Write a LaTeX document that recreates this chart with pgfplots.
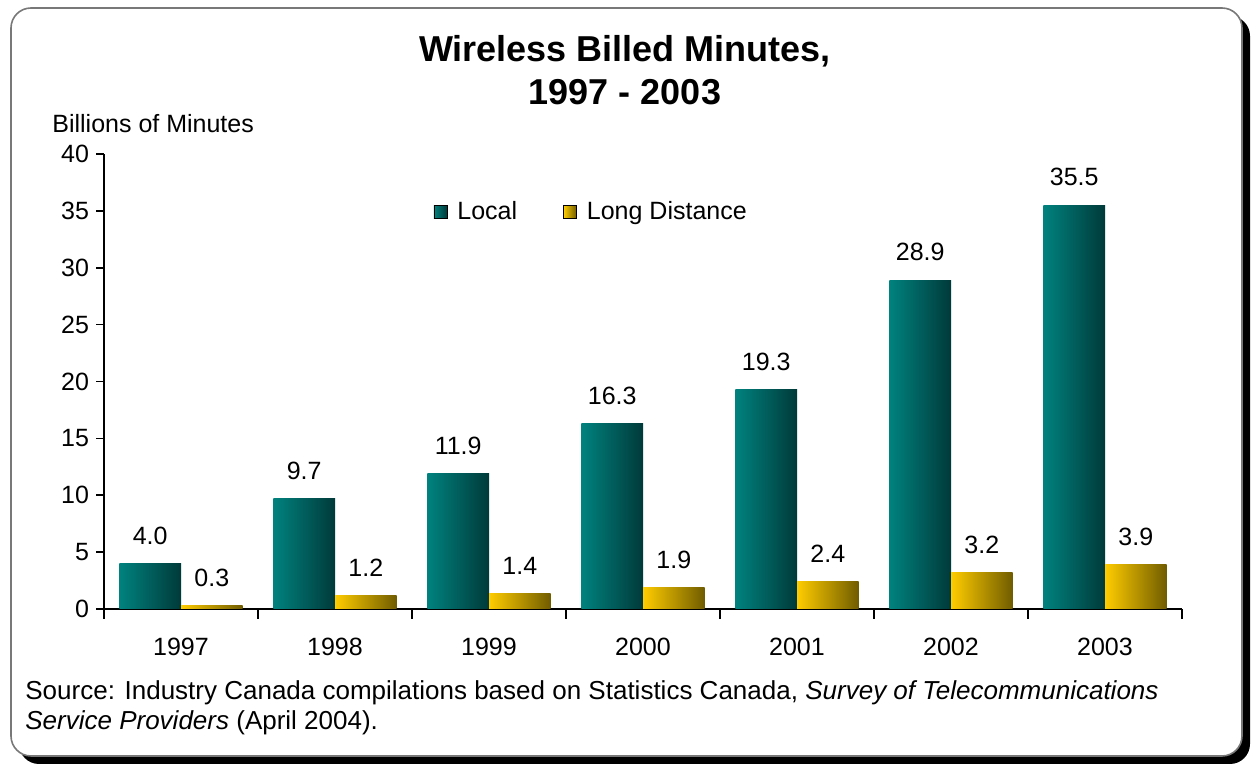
\documentclass[border=0pt]{standalone}
\usepackage{pgfplots}
\pgfplotsset{compat=1.18}
\usepackage{pgfplotstable}
\usepackage{fontspec}
\setmainfont{Liberation Sans}
\definecolor{tealL}{RGB}{0,130,126}
\definecolor{tealD}{RGB}{0,58,58}
\definecolor{goldL}{RGB}{255,204,0}
\definecolor{goldD}{RGB}{112,92,0}
\definecolor{frameGray}{RGB}{120,120,120}
\newcommand{\lbl}{\fontsize{12.5}{15}\selectfont}

\pgfplotstableread{
x local ld
0 4.0 0.3
1 9.7 1.2
2 11.9 1.4
3 16.3 1.9
4 19.3 2.4
5 28.9 3.2
6 35.5 3.9
}\datatable

\begin{document}
\begin{tikzpicture}
\useasboundingbox (0pt,0pt) rectangle (626pt,382pt);
\fill[black, rounded corners=10pt] (9.5pt,0pt) rectangle (625pt,374pt);
\draw[frameGray, line width=0.8pt, fill=white, rounded corners=10pt] (5.5pt,4pt) rectangle (621pt,378pt);

\node[anchor=base, font=\fontsize{18}{21}\selectfont\bfseries] at (312.5pt,351pt) {Wireless Billed Minutes,};
\node[anchor=base, font=\fontsize{18}{21}\selectfont\bfseries] at (312.5pt,329.5pt) {1997 - 2003};
\node[anchor=base west, font=\lbl, inner sep=0pt] at (26pt,315.5pt) {Billions of Minutes};
\node[anchor=base west, font=\fontsize{13}{15}\selectfont, inner sep=0pt] at (12.5pt,32pt) {Source: Industry Canada compilations based on Statistics Canada, \textit{Survey of Telecommunications}};
\node[anchor=base west, font=\fontsize{13}{15}\selectfont, inner sep=0pt] at (12.5pt,17pt) {\textit{Service Providers} (April 2004).};

\begin{axis}[
  at={(52pt,77.5pt)}, anchor=south west,
  scale only axis, width=539pt, height=227.5pt,
  xmin=-0.5, xmax=6.5, ymin=0, ymax=40,
  enlargelimits=false,
  axis x line*=bottom, axis y line*=left,
  axis line style={line width=0.8pt, -},
  ybar=0pt, bar width=0.4,
  xtick={0,1,2,3,4,5,6},
  xticklabels={1997,1998,1999,2000,2001,2002,2003},
  major x tick style={draw=none},
  minor xtick={-0.5,0.5,1.5,2.5,3.5,4.5,5.5,6.5},
  ytick={0,5,10,15,20,25,30,35,40},
  tick align=outside,
  major tick length=4pt, minor tick length=5pt,
  tick style={black, line width=0.8pt},
  ticklabel style={font=\lbl},
  xticklabel style={yshift=-7pt},
  /pgf/number format/assume math mode=true,
  nodes near coords={\pgfmathprintnumber[fixed,fixed zerofill,precision=1,assume math mode=true]{\pgfplotspointmeta}},
  every node near coord/.append style={font=\lbl, text=black, yshift=6pt},
  legend style={at={(axis cs:2.67,34.9)}, anchor=center, draw=none, fill=none, font=\lbl,
    legend columns=2,
    /tikz/every odd column/.append style={column sep=3pt},
    /tikz/every even column/.append style={column sep=21pt}},
]
\addlegendimage{legend image code/.code={\shade[left color=tealL, right color=tealD] (0pt,-3.3pt) rectangle (6.5pt,3.3pt);}}
\addlegendentry{Local}
\addlegendimage{legend image code/.code={\shade[left color=goldL, right color=goldD] (0pt,-3.3pt) rectangle (6.5pt,3.3pt);}}
\addlegendentry{Long Distance}
\pgfplotsinvokeforeach{0,...,6}{
  \addplot[forget plot, draw=none, bar shift=-0.2, left color=tealL, right color=tealD,
    x filter/.expression={abs(x-#1)<0.1 ? x : nan}]
    table[x=x, y=local] {\datatable};
  \addplot[forget plot, draw=none, bar shift=0.2, left color=goldL, right color=goldD,
    x filter/.expression={abs(x-#1)<0.1 ? x : nan}]
    table[x=x, y=ld] {\datatable};
}
\end{axis}
\end{tikzpicture}
\end{document}
